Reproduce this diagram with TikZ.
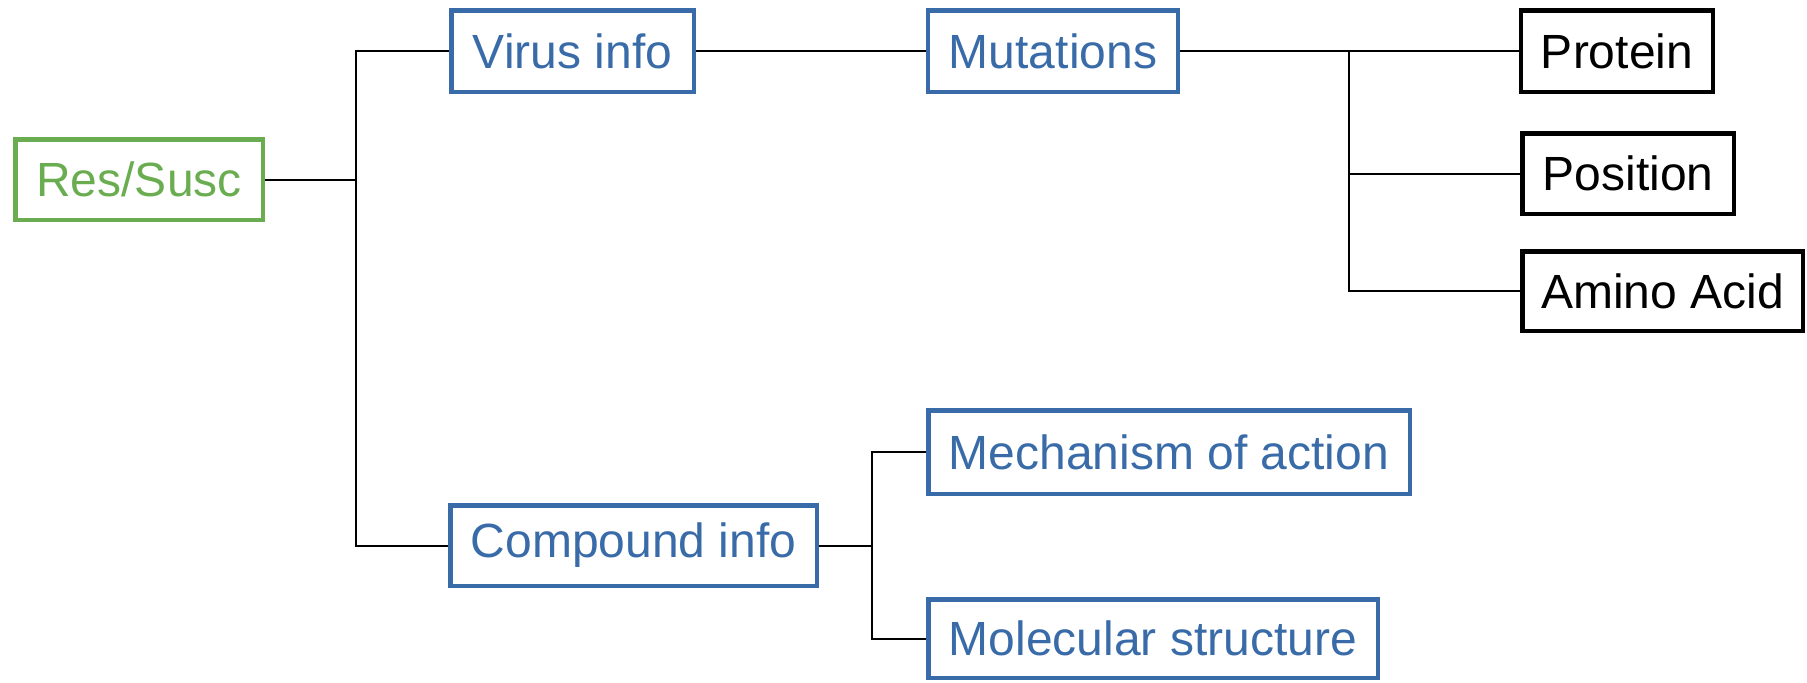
\documentclass[tikz,border=0pt]{standalone}
\usepackage{fontspec}
\setmainfont{Liberation Sans}
\definecolor{boxblue}{RGB}{57,107,168}
\definecolor{boxgreen}{RGB}{106,173,80}
\tikzset{
  box/.style={draw, line width=2.25pt, inner sep=0pt, font=\fontsize{24}{28}\selectfont},
  bluebox/.style={box, draw=boxblue, text=boxblue},
  greenbox/.style={box, draw=boxgreen, text=boxgreen},
  blackbox/.style={box, draw=black, text=black},
  conn/.style={line width=1pt, draw=black},
}
\begin{document}
\begin{tikzpicture}[x=0.5pt,y=-0.5pt]
\useasboundingbox (0,0) rectangle (1807,682);
\node[greenbox, minimum width=123.75pt, minimum height=40.25pt] (res) at (139,179.5) {Res/Susc};
\node[bluebox, minimum width=121.25pt, minimum height=40.75pt] (virus) at (572.5,51) {Virus info};
\node[bluebox, minimum width=125pt, minimum height=40.75pt] (mut) at (1053,51) {Mutations};
\node[blackbox, minimum width=96pt, minimum height=40.75pt] (prot) at (1617,51) {Protein};
\node[blackbox, minimum width=105.75pt, minimum height=40.25pt] (pos) at (1628,173.5) {Position};
\node[blackbox, minimum width=140.25pt, minimum height=39.75pt] (amino) at (1662.5,291) {Amino Acid};
\node[bluebox, minimum width=183.25pt, minimum height=40.25pt] (comp) at (633.5,545.5) {Compound info};
\node[bluebox, minimum width=240.75pt, minimum height=41.75pt] (mech) at (1169,452) {Mechanism of action};
\node[bluebox, minimum width=224.75pt, minimum height=39.25pt] (mol) at (1153,638.5) {Molecular structure};
\coordinate (t1) at (356,179.5);
\coordinate (t2) at (1349,51);
\coordinate (t3) at (872,545.5);
\draw[conn] (res.east) -- (t1);
\draw[conn] (t1) |- (virus.west);
\draw[conn] (t1) |- (comp.west);
\draw[conn] (virus.east) -- (mut.west);
\draw[conn] (mut.east) -- (t2) -- (prot.west);
\draw[conn] (t2) |- (pos.west);
\draw[conn] (t2) |- (amino.west);
\draw[conn] (comp.east) -- (t3);
\draw[conn] (t3) |- (mech.west);
\draw[conn] (t3) |- (mol.west);
\end{tikzpicture}
\end{document}
